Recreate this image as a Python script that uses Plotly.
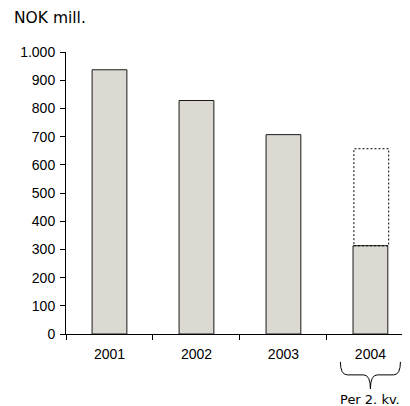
import plotly.graph_objects as go

years = ["2001", "2002", "2003", "2004"]
values = [937, 828, 707, 313]
full_year_estimate = [None, None, None, 657]
y_ticks = [0, 100, 200, 300, 400, 500, 600, 700, 800, 900, 1000]
y_tick_labels = ["0", "100", "200", "300", "400", "500", "600", "700", "800", "900", "1.000"]

fig = go.Figure()
fig.add_trace(go.Bar(
    x=years, y=values,
    marker=dict(color="#DCD9D2", line=dict(color="#1a1a1a", width=1)),
    width=0.4, showlegend=False, hoverinfo="skip",
))

half = 0.2
shapes = []
for i, est in enumerate(full_year_estimate):
    if est is None:
        continue
    shapes.append(dict(type="rect", xref="x", yref="y",
                       x0=i - half + 0.01, x1=i + half + 0.01,
                       y0=values[i], y1=est,
                       line=dict(color="black", width=1, dash="2px,2px"),
                       fillcolor="rgba(0,0,0,0)", layer="above"))

# brace under 2004
c = 3
lft, rgt = c - 0.345, c + 0.345
shapes.append(dict(
    type="path", xref="x", yref="paper",
    path=(f"M {lft},-0.099 Q {lft},-0.145 {lft+0.08},-0.145 "
          f"L {c-0.08},-0.145 Q {c},-0.145 {c},-0.195 "
          f"Q {c},-0.145 {c+0.08},-0.145 L {rgt-0.08},-0.145 "
          f"Q {rgt},-0.145 {rgt},-0.099"),
    line=dict(color="black", width=1), layer="above"))

fig.update_layout(
    width=402, height=398,
    margin=dict(l=58, r=0, t=44, b=72),
    paper_bgcolor="white", plot_bgcolor="white",
    font=dict(family="Liberation Sans, Arial, sans-serif", size=14, color="black"),
    bargap=0.6,
    shapes=shapes,
    xaxis=dict(
        type="category", tickson="boundaries", ticks="outside", ticklen=5,
        tickcolor="black", showline=True, linecolor="black", linewidth=1,
        showgrid=False, range=[-0.5, 3.455], tickfont=dict(size=14),
        ticklabelstandoff=7,
    ),
    yaxis=dict(
        range=[0, 1000], tickvals=y_ticks, ticktext=y_tick_labels,
        ticks="outside", ticklen=5, tickcolor="black",
        showline=True, linecolor="black", linewidth=1, showgrid=False,
        zeroline=False, tickfont=dict(size=14), ticklabelstandoff=2,
    ),
    annotations=[
        dict(text="NOK mill.", xref="paper", yref="paper", x=-0.157, y=1.12,
             xanchor="left", yanchor="middle", showarrow=False,
             font=dict(family="DejaVu Sans, Verdana, sans-serif", size=15.5)),
        dict(text="Per 2. kv.", xref="x", yref="paper", x=3, y=-0.232,
             xanchor="center", yanchor="middle", showarrow=False,
             font=dict(family="DejaVu Sans, Verdana, sans-serif", size=13)),
    ],
)

fig.write_html("out.html")
